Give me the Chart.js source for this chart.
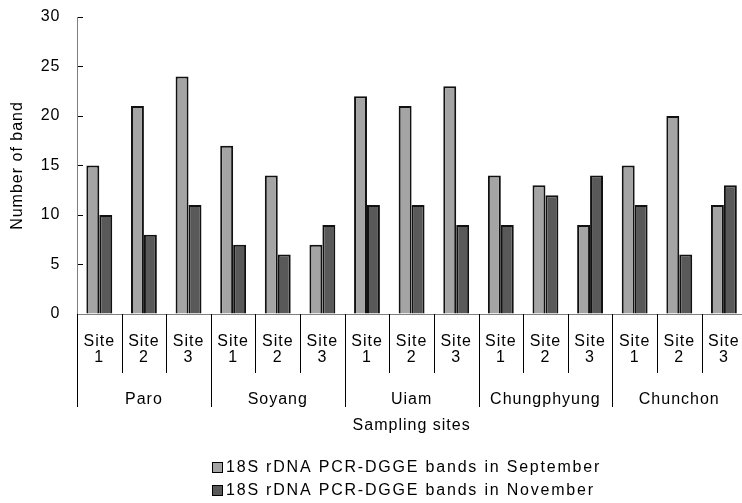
<!DOCTYPE html>
<html><head><meta charset="utf-8">
<script src="https://cdn.jsdelivr.net/npm/chart.js@4/dist/chart.umd.min.js"></script>
<style>html,body{margin:0;padding:0;overflow:hidden;background:#fff;width:742px;height:503px}canvas{display:block}</style>
</head><body><canvas id="c" width="760" height="503"></canvas>
<script>
const groups = ['Paro', 'Soyang', 'Uiam', 'Chungphyung', 'Chunchon'];
const sites = [['Site', '1'], ['Site', '2'], ['Site', '3']];
const categories = groups.flatMap(() => sites);
const september = [15, 21, 24, 17, 14, 7, 22, 21, 23, 14, 13, 9, 15, 20, 11];
const november = [10, 8, 11, 7, 6, 9, 11, 11, 9, 9, 12, 14, 11, 6, 13];
const seriesNames = ['18S rDNA PCR-DGGE bands in September', '18S rDNA PCR-DGGE bands in November'];
const yTicks = [0, 5, 10, 15, 20, 25, 30];

const FAMILY = '"Liberation Sans", Arial, sans-serif';
const LS = '1px';

const spacing = {
  id: 'spacing',
  beforeUpdate(c) { c.ctx.letterSpacing = LS; },
  beforeDraw(c) { c.ctx.letterSpacing = LS; }
};

const dividers = {
  id: 'dividers',
  afterDraw(c) {
    const xs = c.scales.x, x2 = c.scales.x2, ctx = c.ctx;
    const n = categories.length;
    const half = (xs.getPixelForTick(1) - xs.getPixelForTick(0)) / 2;
    ctx.save();
    ctx.strokeStyle = '#000';
    ctx.lineWidth = 1;
    for (let i = 0; i <= n; i++) {
      const p = i < n ? xs.getPixelForTick(i) - half : xs.getPixelForTick(n - 1) + half;
      const px = Math.round(p) + 0.5;
      const bottom = (i % 3 === 0) ? x2.top + 34 : xs.bottom;
      ctx.beginPath();
      ctx.moveTo(px, xs.top);
      ctx.lineTo(px, bottom);
      ctx.stroke();
    }
    ctx.restore();
  }
};

const legendBox = {
  id: 'legendBox',
  afterDraw(c) {
    const ctx = c.ctx;
    const ds = c.data.datasets;
    const rows = [c.height - 35, c.height - 12];
    ctx.save();
    ctx.letterSpacing = '1.8px';
    ctx.font = '16px ' + FAMILY;
    ctx.textBaseline = 'middle';
    ctx.textAlign = 'left';
    ds.forEach((d, i) => {
      const y = rows[i];
      ctx.fillStyle = d.backgroundColor;
      ctx.fillRect(212, y - 6, 11, 11);
      ctx.strokeStyle = '#000';
      ctx.lineWidth = 1;
      ctx.strokeRect(212.5, y - 5.5, 10, 10);
      ctx.fillStyle = '#000';
      ctx.fillText(d.label, 226, y);
    });
    ctx.restore();
  }
};

new Chart(document.getElementById('c'), {
  type: 'bar',
  data: {
    labels: categories,
    datasets: [
      { label: seriesNames[0], data: september, backgroundColor: '#a4a4a4', borderColor: '#111', borderWidth: 2, xAxisID: 'x', yAxisID: 'y' },
      { label: seriesNames[1], data: november, backgroundColor: '#595959', borderColor: '#111', borderWidth: 2, xAxisID: 'x', yAxisID: 'y' }
    ]
  },
  options: {
    responsive: false,
    animation: false,
    layout: { padding: { top: 17, right: 9.5, bottom: 68, left: 0 } },
    datasets: { bar: { categoryPercentage: 0.58, barPercentage: 1 } },
    plugins: { legend: { display: false }, tooltip: { enabled: false } },
    scales: {
      x: {
        type: 'category', position: 'bottom', weight: 0, offset: true,
        grid: { display: false, drawTicks: false },
        border: { display: true, color: '#7f7f7f', width: 1 },
        ticks: { font: { family: FAMILY, size: 16, lineHeight: 1.0 }, color: '#000', padding: 20, maxRotation: 0, minRotation: 0, autoSkip: false },
        afterFit(s) { s.height = 59; }
      },
      x2: {
        type: 'category', labels: groups, position: 'bottom', weight: 1, offset: true,
        grid: { display: false, drawTicks: false },
        border: { display: false },
        ticks: { font: { family: FAMILY, size: 16 }, color: '#000', padding: 17, maxRotation: 0, minRotation: 0, autoSkip: false },
        title: { display: true, text: 'Sampling sites', color: '#000', font: { family: FAMILY, size: 16 }, padding: { top: 0, bottom: 0 } },
        afterFit(s) { s.height = 62; }
      },
      y: {
        min: 0, max: 30,
        afterBuildTicks(s) { s.ticks = yTicks.map(v => ({ value: v })); },
        ticks: { font: { family: FAMILY, size: 16 }, color: '#000', padding: 22.5 },
        grid: { drawOnChartArea: false, tickLength: -6, color: '#000' },
        border: { display: true, color: '#7f7f7f', width: 1 },
        title: { display: true, text: 'Number of band', color: '#000', font: { family: FAMILY, size: 16 }, padding: { top: 8, bottom: 0 } },
        afterFit(s) { s.width = 77; s.paddingTop = 0; s.paddingBottom = 0; }
      }
    }
  },
  plugins: [spacing, dividers, legendBox]
});
</script>
</body></html>
